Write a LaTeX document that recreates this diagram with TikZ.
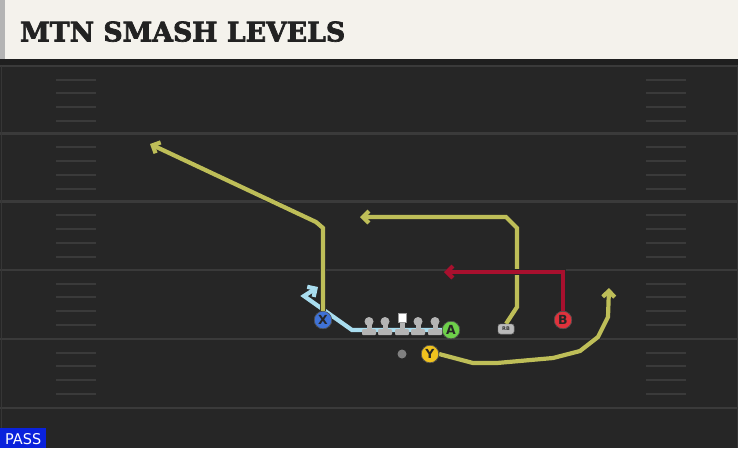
\documentclass[tikz,border=0pt]{standalone}
\usepackage{fontspec}
\usepackage{graphicx}
\setmainfont{DejaVu Sans}
\newfontfamily\slabfont[BoldFeatures={FakeBold=2.5}]{DejaVu Serif}
\usetikzlibrary{arrows.meta}
\definecolor{hdrbg}{HTML}{F4F2EC}
\definecolor{hdrtxt}{HTML}{222222}
\definecolor{fieldbg}{HTML}{262626}
\definecolor{fieldline}{HTML}{3A3A3A}
\definecolor{hashcol}{HTML}{3A3A3A}
\definecolor{routeyel}{HTML}{BEBE58}
\definecolor{routered}{HTML}{A8102E}
\definecolor{motionblue}{HTML}{A9DDEF}
\definecolor{plblue}{HTML}{3F72D6}
\definecolor{plgreen}{HTML}{6ED04A}
\definecolor{plred}{HTML}{E0323C}
\definecolor{plyellow}{HTML}{F0C21E}
\definecolor{olgray}{HTML}{B4B4B4}
\definecolor{passblue}{HTML}{0A22DC}
\tikzset{
  route/.style={line width=4.2pt, line join=miter, -{Straight Barb[length=6pt,width=12pt]},
    preaction={draw=black!85, line width=5.8pt, -{Straight Barb[length=6pt,width=12pt]}}},
  player/.style={circle, draw=black!70, line width=0.6pt, minimum size=17.5pt, inner sep=0pt,
    font=\fontsize{12.5}{12.5}\selectfont\bfseries, text=black!85},
  rbbox/.style={draw=black!60, fill=olgray!90, rounded corners=2.5pt, minimum width=16pt, minimum height=10pt,
    inner sep=0pt, font=\fontsize{5}{5}\selectfont\bfseries, text=black!80},
  fline/.style={draw=fieldline, line width=2.5pt},
  hashmark/.style={draw=hashcol, line width=2pt},
}
\begin{document}
\begin{tikzpicture}[x=1pt,y=-1pt]
\useasboundingbox (0,0) rectangle (738,448);
% field
\fill[fieldbg] (0,59) rectangle (738,448);
\fill[black!88] (0,59) rectangle (738,66);
\foreach \ly in {66,133.5,201.5,270,339,408} {\draw[fline] (0,\ly) -- (738,\ly);}
\foreach \ly in {66,133.5,201.5,270,339} {
  \foreach \off in {13.5,27,41,55} {
    \draw[hashmark] (56,\ly+\off) -- (96,\ly+\off);
    \draw[hashmark] (646,\ly+\off) -- (686,\ly+\off);
  }
}
\draw[fieldline!80!fieldbg, line width=1pt] (1,66) -- (1,448);
\draw[fieldline!80!fieldbg, line width=1pt] (737,66) -- (737,448);
% header
\fill[hdrbg] (0,0) rectangle (738,59);
\fill[olgray] (0,0) rectangle (5,59);
\node[anchor=south west, inner sep=0pt, text=hdrtxt] (title) at (20,42)
  {\resizebox{325pt}{20pt}{\slabfont\bfseries MTN SMASH LEVELS}};
% players
\node[player, fill=plblue] (x) at (323,320) {X};
\node[player, fill=plgreen] (a) at (451,330) {A};
\node[player, fill=plred] (b) at (563,320) {B};
\node[player, fill=plyellow] (y) at (430,354) {Y};
\node[rbbox] (rb) at (506,329) {RB};
\node[circle, fill=black!50, minimum size=9pt, inner sep=0pt] (qb) at (402,354) {};
% route coordinates
\coordinate (m1) at (352,330); \coordinate (m2) at (304,296); \coordinate (m3) at (318,287);
\coordinate (x1) at (323,228); \coordinate (x2) at (316,222); \coordinate (x3) at (150,144);
\coordinate (r1) at (517,307); \coordinate (r2) at (517,228); \coordinate (r3) at (506,217); \coordinate (r4) at (360,217);
\coordinate (b1) at (563,272); \coordinate (b2) at (444,272);
\coordinate (y1) at (473,363); \coordinate (y2) at (497,363); \coordinate (y3) at (553,358);
\coordinate (y4) at (580,351); \coordinate (y5) at (598,337); \coordinate (y6) at (608,317); \coordinate (y7) at (609,288);
% routes
\draw[route, draw=motionblue] (a.west) -- (m1) -- (m2) -- (m3);
\draw[route, draw=routeyel] (x.north) -- (x1) -- (x2) -- (x3);
\draw[route, draw=routeyel] (rb.north) -- (r1) -- (r2) -- (r3) -- (r4);
\draw[route, draw=routered] (b.north) -- (b1) -- (b2);
\draw[route, draw=routeyel] (y.east) -- (y1) -- (y2) -- (y3) -- (y4) -- (y5) -- (y6) -- (y7);
% linemen
\foreach \lx [count=\i] in {369,385,402,418,435} {
  \coordinate (l\i) at (\lx,325);
  \fill[olgray] (\lx-2.5,322) rectangle (\lx+2.5,330);
  \fill[olgray, rounded corners=1pt] (\lx-7,329) rectangle (\lx+7,335);
}
\foreach \lx in {369,385,418,435} {\fill[olgray] (\lx,321.5) circle (4.5pt);}
\node[draw=black!40, fill=white, minimum width=8.5pt, minimum height=9pt, inner sep=0pt] (ctr) at (402,318) {};
% players on top
\node[player, fill=plblue] at (x) {X};
\node[player, fill=plgreen] at (a) {A};
\node[player, fill=plred] at (b) {B};
\node[player, fill=plyellow] at (y) {Y};
\node[rbbox] at (rb) {RB};
% pass label
\fill[passblue] (0,428) rectangle (46,448);
\node[anchor=south west, inner sep=0pt, text=white] (pass) at (5,445) {\resizebox{36pt}{11pt}{PASS}};
\end{tikzpicture}
\end{document}
